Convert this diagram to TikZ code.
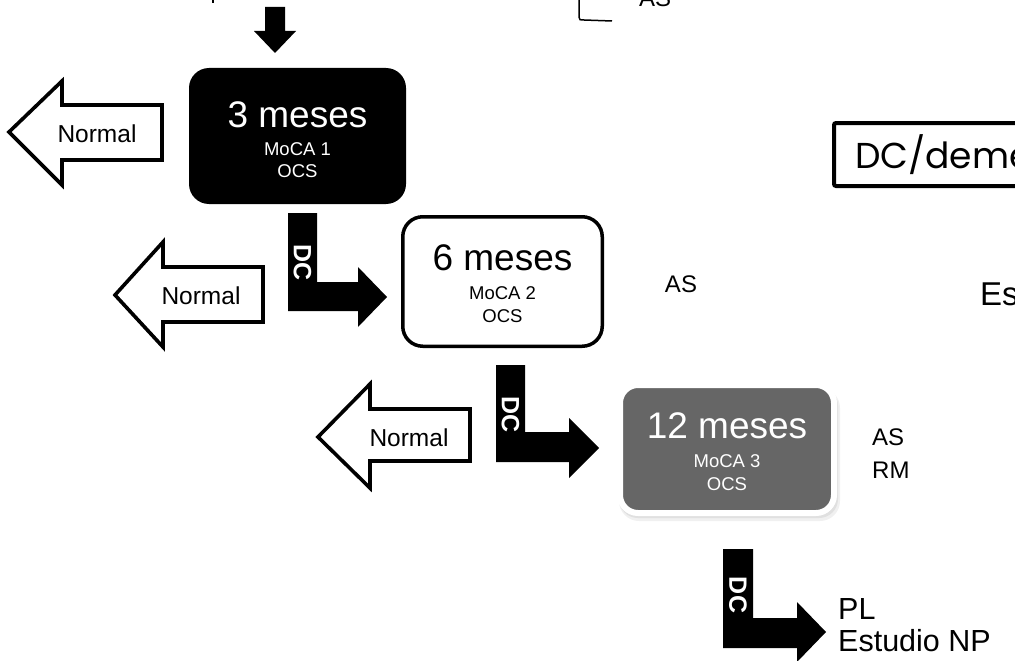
\documentclass[tikz,border=0pt]{standalone}
\usepackage{fontspec}
\setmainfont{Liberation Sans}
\newfontfamily\popfont{Poppins}
\definecolor{boxgray}{RGB}{102,102,102}
\begin{document}
\begin{tikzpicture}[x=1pt,y=-1pt,
  bigtxt/.style={font=\fontsize{37}{40}\selectfont, anchor=base, inner sep=0},
  smalltxt/.style={font=\fontsize{18.5}{20}\selectfont, anchor=base, inner sep=0},
  normalarrow/.style={draw=black, fill=white, line width=3.6pt, line join=miter},
  normaltxt/.style={font=\fontsize{24.5}{26}\selectfont, inner sep=0},
  dcarrow/.style={fill=black},
  dclabel/.style={text=white, font=\bfseries\fontsize{25}{28}\selectfont, rotate=-90, inner sep=0},
  sidetxt/.style={font=\fontsize{24}{33}\selectfont, inner sep=0, align=left},
]
\useasboundingbox (0,0) rectangle (1015,661);
\clip (0,0) rectangle (1015,661);

% fragments at the top edge
\fill (212,0) rectangle (214,3);
\draw[line width=1.5pt] (579,-2) -- (579,17) .. controls (579,20) and (580,20) .. (584,20) -- (612,21);
\node[anchor=base west, font=\fontsize{24}{28}\selectfont, inner sep=0] (astop) at (639,7) {AS};

% down arrow
\fill (265,7) -- (285,7) -- (285,31) -- (296,31) -- (275,53) -- (254,31) -- (265,31) -- cycle;

% box 1
\node[fill=black, rounded corners=20pt, minimum width=217pt, minimum height=136pt] (b1) at (297.5,136) {};
\node[bigtxt, text=white] (b1t) at (297.5,127) {3 meses};
\node[smalltxt, text=white] (b1m) at (297.5,155) {MoCA 1};
\node[smalltxt, text=white] (b1o) at (297.5,177) {OCS};

% box 2
\node[draw=black, fill=white, line width=3.5pt, rounded corners=20pt, minimum width=199.5pt, minimum height=129.5pt] (b2) at (502.5,281.5) {};
\node[bigtxt] (b2t) at (502.5,270) {6 meses};
\node[smalltxt] (b2m) at (502.5,299) {MoCA 2};
\node[smalltxt] (b2o) at (502.5,322) {OCS};

% box 3 with soft shadow
\fill[black!6, rounded corners=20pt] (619,388) rectangle (840,521);
\fill[black!12, rounded corners=19pt] (619,387) rectangle (838,518);
\node[draw=white, fill=boxgray, line width=6pt, rounded corners=18pt, minimum width=214pt, minimum height=128pt] (b3) at (727,449) {};
\node[bigtxt, text=white] (b3t) at (727,438) {12 meses};
\node[smalltxt, text=white] (b3m) at (727,467) {MoCA 3};
\node[smalltxt, text=white] (b3o) at (727,490) {OCS};

% Normal arrows
\draw[normalarrow] (9,132) -- (62,81) -- (62,105) -- (162,105) -- (162,160) -- (62,160) -- (62,185) -- cycle;
\node[normaltxt] (n1) at (97,134) {Normal};
\draw[normalarrow] (115,295) -- (163,242) -- (163,267) -- (263,267) -- (263,322) -- (163,322) -- (163,347) -- cycle;
\node[normaltxt] (n2) at (201,296) {Normal};
\draw[normalarrow] (318,437) -- (370,384) -- (370,409) -- (470,409) -- (470,461) -- (370,461) -- (370,488) -- cycle;
\node[normaltxt] (n3) at (409,438) {Normal};

% DC arrows
\fill[dcarrow] (288,213) -- (317,213) -- (317,282) -- (358,282) -- (358,267) -- (387,297) -- (358,327) -- (358,311) -- (288,311) -- cycle;
\node[dclabel] (dc1) at (302.5,263) {DC};
\fill[dcarrow] (496,365) -- (525,365) -- (525,432) -- (569,432) -- (569,418) -- (599,448) -- (569,478) -- (569,462) -- (496,462) -- cycle;
\node[dclabel] (dc2) at (510.5,415) {DC};
\fill[dcarrow] (723,549) -- (753,549) -- (753,618) -- (797,618) -- (797,602) -- (826,632) -- (797,662) -- (797,648) -- (723,648) -- cycle;
\node[dclabel] (dc3) at (738,595) {DC};

% side texts
\node[sidetxt] (as2) at (681,284) {AS};
\node[sidetxt, anchor=west] (asrm) at (872,453.5) {AS\\RM};
\node[font=\fontsize{30.5}{32}\selectfont, inner sep=0, align=left, anchor=west] (pl) at (838,625) {PL\\Estudio NP};

% right side
\draw[line width=4pt, rounded corners=2pt] (834,123) rectangle (1040,186);
\node[anchor=base west, font=\popfont\fontsize{36}{40}\selectfont, inner sep=0] (dcdem) at (855,168) {DC/deme};
\node[anchor=base west, font=\fontsize{33}{36}\selectfont, inner sep=0] (es) at (980,305) {Es};
\end{tikzpicture}
\end{document}
